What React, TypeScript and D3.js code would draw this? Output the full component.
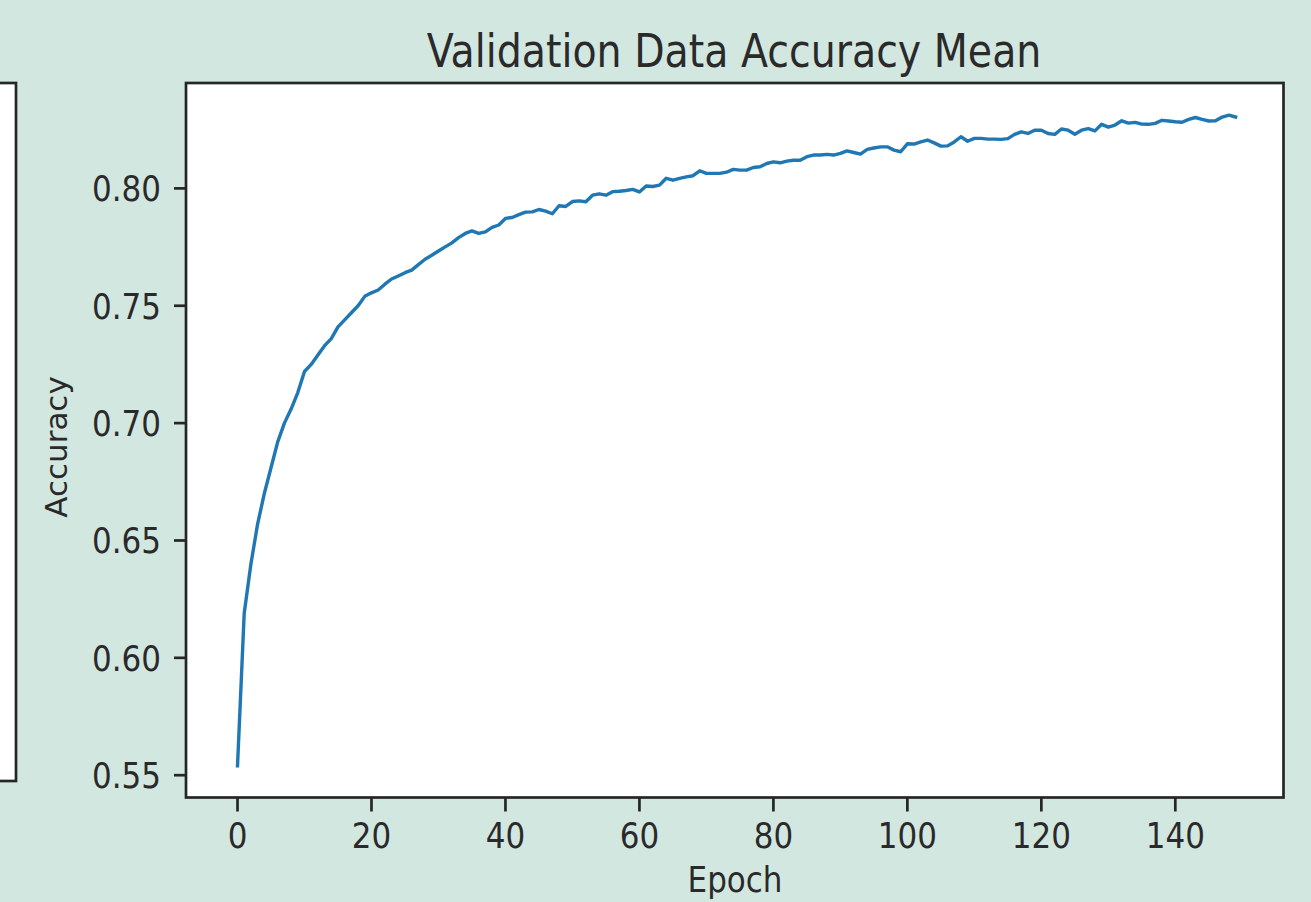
import React from 'react';
import * as d3 from 'd3';

const accuracy: number[] = [
  0.554, 0.619, 0.640, 0.657, 0.670, 0.681, 0.692, 0.700, 0.706, 0.713,
  0.722, 0.725, 0.729, 0.733, 0.736, 0.741, 0.744, 0.747, 0.750, 0.754,
  0.7555, 0.7567, 0.7592, 0.7614, 0.7627, 0.7641, 0.7652, 0.7675, 0.7698, 0.7715,
  0.7733, 0.7751, 0.7768, 0.779, 0.7808, 0.7819, 0.7808, 0.7815, 0.7834, 0.7844,
  0.7872, 0.7876, 0.7888, 0.7899, 0.790, 0.791, 0.7903, 0.7892, 0.7926, 0.7923,
  0.7944, 0.7947, 0.7943, 0.7971, 0.7977, 0.7971, 0.7986, 0.7988, 0.7991, 0.7996,
  0.7985, 0.801, 0.8008, 0.8014, 0.8043, 0.8035, 0.8043, 0.8049, 0.8054, 0.8075,
  0.8064, 0.8064, 0.8064, 0.8069, 0.8081, 0.8078, 0.8078, 0.8089, 0.8092, 0.8106,
  0.8113, 0.8109, 0.8116, 0.812, 0.812, 0.8135, 0.8142, 0.8142, 0.8145, 0.8142,
  0.8149, 0.816, 0.8153, 0.8146, 0.8166, 0.8172, 0.8177, 0.8177, 0.8163, 0.8156,
  0.819, 0.8189, 0.8198, 0.8206, 0.8194, 0.818, 0.8181, 0.8198, 0.822, 0.8201,
  0.8213, 0.8213, 0.821, 0.821, 0.8209, 0.8212, 0.823, 0.8241, 0.8234, 0.8248,
  0.8248, 0.8234, 0.823, 0.8253, 0.8248, 0.8231, 0.8248, 0.8255, 0.8245, 0.8273,
  0.8261, 0.827, 0.8288, 0.8278, 0.8281, 0.8274, 0.8273, 0.8277, 0.829, 0.8287,
  0.8284, 0.8282, 0.8294, 0.8302, 0.8294, 0.8287, 0.8288, 0.8304, 0.8312, 0.8304,
];
const epochs: number[] = accuracy.map((_, i) => i);
const xTicks: number[] = [0, 20, 40, 60, 80, 100, 120, 140];
const yTicks: number[] = [0.55, 0.6, 0.65, 0.7, 0.75, 0.8];
const titleText = 'Validation Data Accuracy Mean';
const xLabelText = 'Epoch';
const yLabelText = 'Accuracy';

const BG = '#d3e7e1';
const INK = '#262626';
const TEXT = '#2a2a2a';
const LINE = '#1f77b4';
const FONT = '"DejaVu Sans", sans-serif';
const SY = 1.17;

export default function App() {
  const W = 1311;
  const H = 902;
  const left = 186;
  const right = 1283.5;
  const top = 83;
  const bottom = 797.5;

  const x = d3.scaleLinear().domain([-7.69, 156.15]).range([left, right]);
  const y = d3.scaleLinear().domain([0.5405, 0.8449]).range([bottom, top]);
  const line = d3
    .line<number>()
    .x((_, i) => x(epochs[i]))
    .y((d) => y(d));

  return (
    <svg
      width={W}
      height={H}
      style={{ position: 'fixed', left: 0, top: 0, display: 'block' }}
      fontFamily={FONT}
    >
      <rect x={0} y={0} width={W} height={H} fill={BG} />
      {/* partial neighbouring axes on the left */}
      <rect x={-10} y={83} width={26} height={698} fill="#ffffff" stroke={INK} strokeWidth={2.7} />
      {/* main axes */}
      <rect x={left} y={top} width={right - left} height={bottom - top} fill="#ffffff" />
      <path d={line(accuracy) || ''} fill="none" stroke={LINE} strokeWidth={3.4} strokeLinejoin="round" strokeLinecap="square" />
      <rect x={left} y={top} width={right - left} height={bottom - top} fill="none" stroke={INK} strokeWidth={2.7} />

      {xTicks.map((t) => (
        <g key={'x' + t}>
          <line x1={x(t)} x2={x(t)} y1={bottom} y2={bottom + 14} stroke={INK} strokeWidth={2.7} />
          <text
            transform={`translate(${x(t)},${848}) scale(1,${SY})`}
            textAnchor="middle"
            fontSize={31}
            fill={TEXT}
          >
            {t}
          </text>
        </g>
      ))}
      {yTicks.map((t) => (
        <g key={'y' + t}>
          <line x1={left - 12} x2={left} y1={y(t)} y2={y(t)} stroke={INK} strokeWidth={2.7} />
          <text
            transform={`translate(${161},${y(t) + 13}) scale(1,${SY})`}
            textAnchor="end"
            fontSize={31}
            fill={TEXT}
          >
            {t.toFixed(2)}
          </text>
        </g>
      ))}

      <text
        transform={`translate(734,67) scale(1,${SY})`}
        textAnchor="middle"
        fontSize={39.5}
        fill={TEXT}
      >
        {titleText}
      </text>
      <text
        transform={`translate(735,892) scale(1,${SY})`}
        textAnchor="middle"
        fontSize={31}
        fill={TEXT}
      >
        {xLabelText}
      </text>
      <text
        transform={`translate(67,447) rotate(-90)`}
        textAnchor="middle"
        fontSize={31}
        fill={TEXT}
      >
        {yLabelText}
      </text>
    </svg>
  );
}
